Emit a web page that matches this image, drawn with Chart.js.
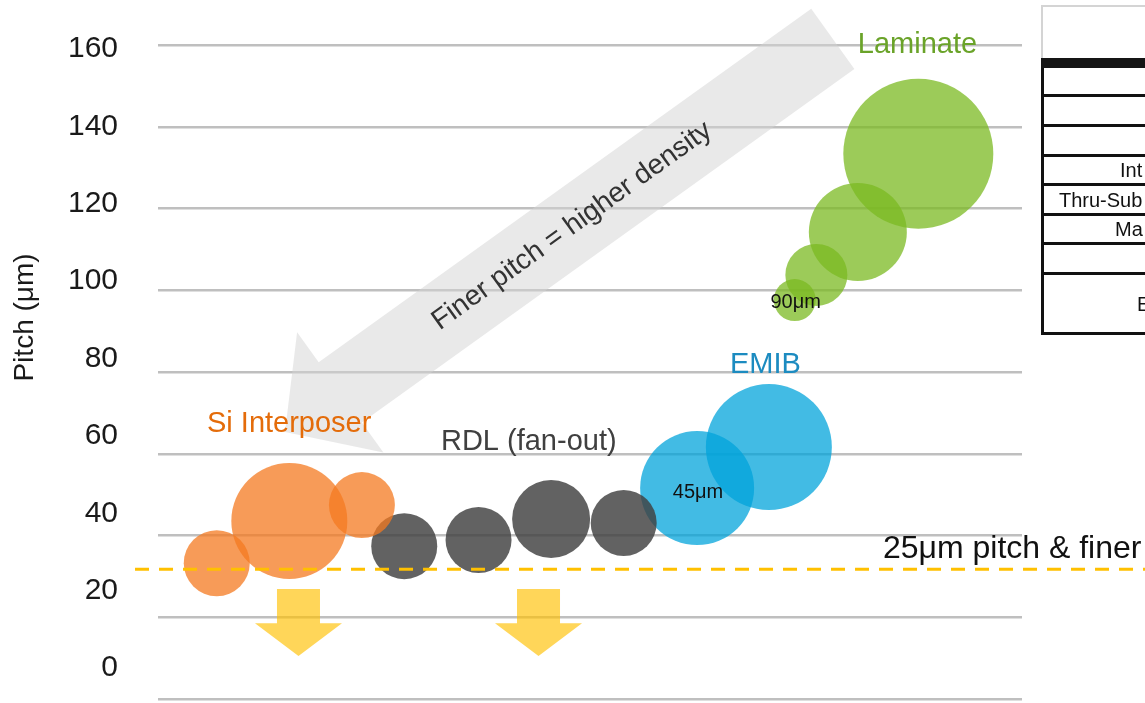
<!DOCTYPE html>
<html>
<head>
<meta charset="utf-8">
<script src="https://cdn.jsdelivr.net/npm/chart.js@4.4.1/dist/chart.umd.min.js"></script>
<style>
    html, body { margin: 0; padding: 0; width: 1145px; height: 703px; overflow: hidden; background: #fff; }
    #wrap { position: relative; width: 1145px; height: 703px; }
    canvas { position: absolute; left: 0; top: 0; }
    .tbl-head { position: absolute; left: 1041px; top: 5px; width: 200px; height: 53px; border-top: 2px solid #d4d4d4; border-left: 2px solid #d4d4d4; box-sizing: border-box; }
    .tbl-bar { position: absolute; left: 1041px; top: 58px; width: 200px; height: 10px; background: #151515; }
    .tbl-body { position: absolute; left: 1041px; top: 68px; width: 200px; border-left: 3px solid #111; }
    .tbl-row { position: relative; box-sizing: border-box; border-bottom: 3px solid #111; font: 20px "Liberation Sans", Arial, sans-serif; color: #111; white-space: nowrap; }
    .tbl-row span { position: absolute; }
</style>
</head>
<body>
<div id="wrap">
    <canvas id="chart-pitch" width="1145" height="703"></canvas>
    <div class="tbl-head"></div>
    <div class="tbl-bar"></div>
    <div class="tbl-body" id="tbl"></div>
</div>
<script>
// ---- data ----
const groups = ['Si Interposer', 'RDL (fan-out)', 'EMIB', 'Laminate'];

const siX = [6.8, 15.2, 23.6];
const siY = [27.1, 38.0, 42.1];
const siR = [33, 58, 33];

const rdlX = [28.5, 37.1, 45.5, 53.9];
const rdlY = [31.5, 33.1, 38.5, 37.5];
const rdlR = [33, 33, 39, 33];

const emibX = [62.4, 70.7];
const emibY = [46.5, 57.1];
const emibR = [57, 63];

const lamX = [73.7, 76.2, 81.0, 88.0];
const lamY = [95.1, 101.6, 112.7, 132.9];
const lamR = [21, 31, 49, 75];

const yTicks = [0, 20, 40, 60, 80, 100, 120, 140, 160];
const finePitch = 25.5;

// right hand table (cut off by the page edge)
const tableRows = ['', '', '', 'Int', 'Thru-Sub', 'Ma', '', 'E'];

const FONT = '"Liberation Sans", Arial, sans-serif';

document.addEventListener('DOMContentLoaded', function () {
    const tbl = document.getElementById('tbl');
    const rowHeights = [29, 30, 30, 29, 30, 29, 30, 60];
    const textLeft = [0, 0, 0, 76, 15, 71, 0, 93];
    tableRows.forEach((txt, i) => {
        const row = document.createElement('div');
        row.className = 'tbl-row';
        row.style.height = rowHeights[i] + 'px';
        if (txt) {
            const s = document.createElement('span');
            s.textContent = txt;
            s.style.left = textLeft[i] + 'px';
            s.style.top = ((rowHeights[i] - 3) / 2 - 11) + 'px';
            row.appendChild(s);
        }
        tbl.appendChild(row);
    });

    function pts(xs, ys, rs) {
        return xs.map((x, i) => ({ x: x, y: ys[i], r: rs[i] }));
    }

    // annotation placement (data units)
    const notes = {
        bigArrow: { from: [78.1, 162.6], to: [14.7, 61.0], shaft: 37, head: 74, headLen: 68 },
        arrowText: 'Finer pitch = higher density',
        downArrows: [16.26, 44.04],
        downTop: 20.4, downBase: 11.6, downTip: 3.1,
        labels: [
            { text: groups[0], x: 5.67, y: 61.0, color: '#E46C0A', size: 29, align: 'left' },
            { text: groups[1], x: 32.75, y: 56.3, color: '#404040', size: 29, align: 'left' },
            { text: groups[2], x: 66.2, y: 76.2, color: '#1C8BC0', size: 29, align: 'left' },
            { text: groups[3], x: 81.0, y: 159.0, color: '#6AA329', size: 29, align: 'left' },
            { text: '45μm', x: 62.5, y: 43.9, color: '#111', size: 20, align: 'center' },
            { text: '90μm', x: 73.8, y: 93.0, color: '#111', size: 20, align: 'center' },
            { text: '25μm pitch & finer', x: 83.9, y: 28.4, color: '#111', size: 32, align: 'left' }
        ]
    };

    const annotations = {
        id: 'annotations',
        beforeDatasetsDraw(chart) {
            const { ctx } = chart;
            const x = chart.scales.x, y = chart.scales.y;
            const a = notes.bigArrow;
            const T = [x.getPixelForValue(a.from[0]), y.getPixelForValue(a.from[1])];
            const P = [x.getPixelForValue(a.to[0]), y.getPixelForValue(a.to[1])];
            const len = Math.hypot(P[0] - T[0], P[1] - T[1]);
            const d = [(P[0] - T[0]) / len, (P[1] - T[1]) / len];
            const n = [-d[1], d[0]];
            const B = [P[0] - d[0] * a.headLen, P[1] - d[1] * a.headLen];
            ctx.save();
            ctx.beginPath();
            ctx.moveTo(T[0] + n[0] * a.shaft, T[1] + n[1] * a.shaft);
            ctx.lineTo(B[0] + n[0] * a.shaft, B[1] + n[1] * a.shaft);
            ctx.lineTo(B[0] + n[0] * a.head, B[1] + n[1] * a.head);
            ctx.lineTo(P[0], P[1]);
            ctx.lineTo(B[0] - n[0] * a.head, B[1] - n[1] * a.head);
            ctx.lineTo(B[0] - n[0] * a.shaft, B[1] - n[1] * a.shaft);
            ctx.lineTo(T[0] - n[0] * a.shaft, T[1] - n[1] * a.shaft);
            ctx.closePath();
            ctx.fillStyle = 'rgba(212,212,212,0.5)';
            ctx.fill();

            // text along the arrow
            const t = 0.476;
            ctx.translate(T[0] + (P[0] - T[0]) * t, T[1] + (P[1] - T[1]) * t);
            ctx.rotate(Math.atan2(T[1] - P[1], T[0] - P[0]));
            ctx.font = '28px ' + FONT;
            ctx.fillStyle = '#333';
            ctx.textAlign = 'center';
            ctx.textBaseline = 'middle';
            ctx.fillText(notes.arrowText, 0, 0);
            ctx.restore();
        },
        afterDatasetsDraw(chart) {
            const { ctx } = chart;
            const x = chart.scales.x, y = chart.scales.y;

            // dashed threshold line
            ctx.save();
            const ly = y.getPixelForValue(finePitch);
            ctx.strokeStyle = '#FFC000';
            ctx.lineWidth = 3;
            ctx.setLineDash([14, 10]);
            ctx.beginPath();
            ctx.moveTo(x.getPixelForValue(-2.66), ly);
            ctx.lineTo(chart.width, ly);
            ctx.stroke();
            ctx.setLineDash([]);

            // yellow down arrows
            ctx.fillStyle = 'rgba(255,192,0,0.65)';
            const top = y.getPixelForValue(notes.downTop);
            const base = y.getPixelForValue(notes.downBase);
            const tip = y.getPixelForValue(notes.downTip);
            notes.downArrows.forEach(v => {
                const cx = x.getPixelForValue(v);
                ctx.beginPath();
                ctx.moveTo(cx - 21.5, top);
                ctx.lineTo(cx + 21.5, top);
                ctx.lineTo(cx + 21.5, base);
                ctx.lineTo(cx + 43.5, base);
                ctx.lineTo(cx, tip);
                ctx.lineTo(cx - 43.5, base);
                ctx.lineTo(cx - 21.5, base);
                ctx.closePath();
                ctx.fill();
            });

            // labels
            ctx.textBaseline = 'alphabetic';
            notes.labels.forEach(l => {
                ctx.font = l.size + 'px ' + FONT;
                ctx.fillStyle = l.color;
                ctx.textAlign = l.align;
                ctx.fillText(l.text, x.getPixelForValue(l.x), y.getPixelForValue(l.y));
            });

            // axis title
            ctx.translate(25, y.getPixelForValue(90.6));
            ctx.rotate(-Math.PI / 2);
            ctx.font = '28px ' + FONT;
            ctx.fillStyle = '#1a1a1a';
            ctx.textAlign = 'center';
            ctx.textBaseline = 'middle';
            ctx.fillText('Pitch (μm)', 0, 0);
            ctx.restore();
        }
    };

    const ctx = document.getElementById('chart-pitch').getContext('2d');

    new Chart(ctx, {
        type: 'bubble',
        data: {
            datasets: [
                {
                    label: groups[0],
                    data: pts(siX, siY, siR),
                    backgroundColor: 'rgba(244,121,32,0.75)',
                    borderWidth: 0,
                    clip: false
                },
                {
                    label: groups[1],
                    data: pts(rdlX, rdlY, rdlR),
                    backgroundColor: 'rgba(64,64,64,0.82)',
                    borderWidth: 0,
                    clip: false
                },
                {
                    label: groups[2],
                    data: pts(emibX, emibY, emibR),
                    backgroundColor: 'rgba(0,163,218,0.74)',
                    borderWidth: 0,
                    clip: false
                },
                {
                    label: groups[3],
                    data: pts(lamX, lamY, lamR),
                    backgroundColor: 'rgba(123,186,33,0.75)',
                    borderWidth: 0,
                    clip: false
                }
            ]
        },
        options: {
            responsive: false,
            animation: false,
            events: [],
            layout: {
                autoPadding: false,
                padding: { left: 0, right: 123, top: 45, bottom: 4 }
            },
            plugins: {
                legend: { display: false },
                tooltip: { enabled: false }
            },
            scales: {
                x: {
                    type: 'linear',
                    display: false,
                    min: 0,
                    max: 100
                },
                y: {
                    position: 'left',
                    min: -8.01,
                    max: 161.02,
                    afterBuildTicks: function (scale) {
                        scale.ticks = yTicks.map(v => ({ value: v }));
                    },
                    afterFit: function (scale) {
                        scale.width = 158;
                        scale.paddingTop = 0;
                        scale.paddingBottom = 0;
                    },
                    ticks: {
                        padding: 40,
                        color: '#1a1a1a',
                        font: { size: 30, family: FONT }
                    },
                    grid: { display: false, drawTicks: false },
                    border: { display: false }
                },
                yGrid: {
                    position: 'left',
                    min: 0,
                    max: 160,
                    afterBuildTicks: function (scale) {
                        scale.ticks = yTicks.map(v => ({ value: v }));
                    },
                    afterFit: function (scale) {
                        scale.width = 0;
                        scale.paddingTop = 0;
                        scale.paddingBottom = 0;
                    },
                    ticks: { display: false },
                    grid: { color: '#bfbfbf', lineWidth: 2.5, drawTicks: false },
                    border: { display: false }
                }
            }
        },
        plugins: [annotations]
    });
});
</script>
</body>
</html>
